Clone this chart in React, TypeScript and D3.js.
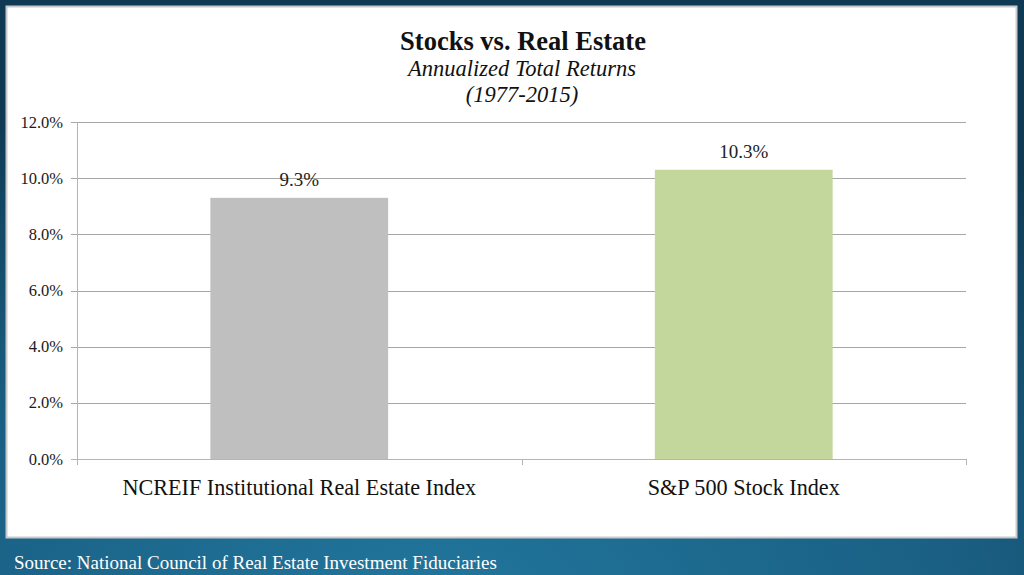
import React from "react";
import * as d3 from "d3";

const categories = ["NCREIF Institutional Real Estate Index", "S&P 500 Stock Index"];
const values = [9.3, 10.3];
const barColors = ["#bfbfbf", "#c3d69b"];
const yTicks = [0, 2, 4, 6, 8, 10, 12];
const titleLines = ["Stocks vs. Real Estate", "Annualized Total Returns", "(1977-2015)"];
const sourceText = "Source: National Council of Real Estate Investment Fiduciaries";

const W = 1024;
const H = 575;
const FONT = "'Liberation Serif', 'DejaVu Serif', serif";

export default function App() {
  const plotLeft = 77;
  const plotRight = 966;
  const plotTop = 122;
  const plotBottom = 459;

  const x = d3.scaleBand<string>().domain(categories).range([plotLeft, plotRight]).paddingInner(0).paddingOuter(0);
  const y = d3.scaleLinear().domain([0, 12]).range([plotBottom, plotTop]);
  const barW = x.bandwidth() * 0.4;

  const boundaries = [plotLeft, ...categories.map((c) => (x(c) as number) + x.bandwidth())];

  return (
    <svg
      width={W}
      height={H}
      viewBox={`0 0 ${W} ${H}`}
      style={{ position: "absolute", left: 0, top: 0, display: "block" }}
    >
      <defs>
        <radialGradient id="bg" cx="0.42" cy="1.05" r="0.95">
          <stop offset="0" stopColor="#21769d" />
          <stop offset="0.55" stopColor="#1a5f83" />
          <stop offset="1" stopColor="#0f3a53" />
        </radialGradient>
      </defs>
      <rect x={0} y={0} width={W} height={H} fill="url(#bg)" />
      <rect x={6.5} y={6.5} width={1010} height={531} fill="#ffffff" stroke="#c9c9c9" strokeWidth={2} />

      {yTicks.map((t) => (
        <line
          key={"g" + t}
          x1={plotLeft - 6}
          x2={plotRight}
          y1={Math.round(y(t)) + 0.5}
          y2={Math.round(y(t)) + 0.5}
          stroke={t === 0 ? "#b5b5b5" : "#a6a6a6"}
          strokeWidth={1}
        />
      ))}
      <line x1={plotLeft + 0.5} x2={plotLeft + 0.5} y1={plotTop} y2={plotBottom + 6} stroke="#b5b5b5" />
      {boundaries.map((b, i) => (
        <line key={"xt" + i} x1={Math.round(b) + 0.5} x2={Math.round(b) + 0.5} y1={plotBottom} y2={plotBottom + 6} stroke="#b5b5b5" />
      ))}

      {yTicks.map((t) => (
        <text
          key={"yl" + t}
          x={63}
          y={y(t) + 5.5}
          textAnchor="end"
          fontFamily={FONT}
          fontSize={16.5}
          fill="#1a1a1a"
        >
          {t.toFixed(1) + "%"}
        </text>
      ))}

      {categories.map((c, i) => {
        const cx = (x(c) as number) + x.bandwidth() / 2;
        return (
          <g key={c}>
            <rect x={cx - barW / 2} y={y(values[i])} width={barW} height={plotBottom - y(values[i])} fill={barColors[i]} />
            <text x={cx} y={y(values[i]) - 12} textAnchor="middle" fontFamily={FONT} fontSize={19} fill="#222">
              {values[i].toFixed(1) + "%"}
            </text>
            <text x={cx} y={495} textAnchor="middle" fontFamily={FONT} fontSize={22.2} fill="#111">
              {c}
            </text>
          </g>
        );
      })}

      <text x={523} y={50} textAnchor="middle" fontFamily={FONT} fontWeight="bold" fontSize={26.5} fill="#111">
        {titleLines[0]}
      </text>
      <text x={522} y={76} textAnchor="middle" fontFamily={FONT} fontStyle="italic" fontSize={22.5} fill="#111">
        {titleLines[1]}
      </text>
      <text x={522} y={102} textAnchor="middle" fontFamily={FONT} fontStyle="italic" fontSize={22.5} fill="#111">
        {titleLines[2]}
      </text>

      <text x={14} y={569} fontFamily={FONT} fontSize={19} fill="#ffffff">
        {sourceText}
      </text>
    </svg>
  );
}
